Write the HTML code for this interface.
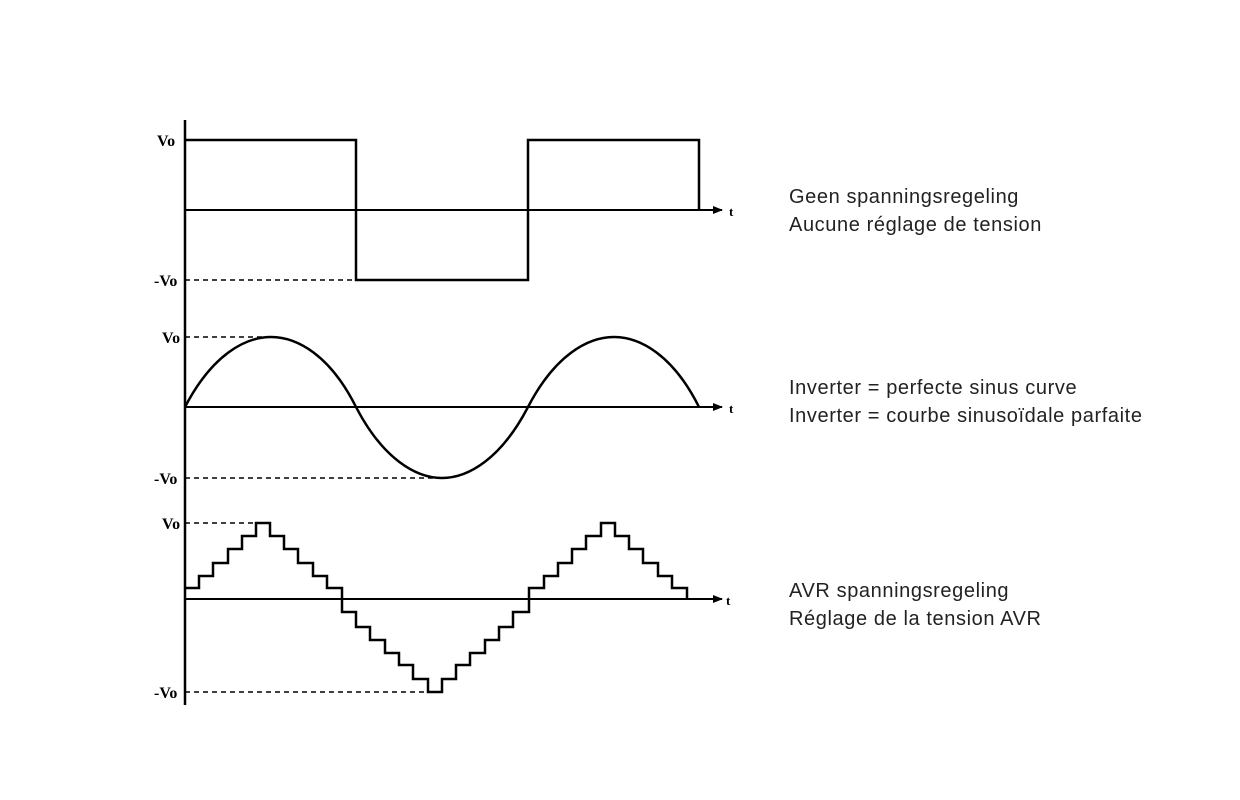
<!DOCTYPE html>
<html><head><style>body{margin:0;background:#fff}</style></head><body>
<svg width="1240" height="800" xmlns="http://www.w3.org/2000/svg" style="display:block">
<defs><marker id="a" markerWidth="10" markerHeight="8" refX="9" refY="4" orient="auto" markerUnits="userSpaceOnUse"><path d="M0,0L10,4L0,8Z" fill="#000"/></marker></defs>
<g stroke="#000" fill="none">
<line x1="185" y1="120" x2="185" y2="705" stroke-width="2.5"/>
<line x1="185" y1="210" x2="722" y2="210" stroke-width="2" marker-end="url(#a)"/>
<line x1="185" y1="407" x2="722" y2="407" stroke-width="2" marker-end="url(#a)"/>
<line x1="185" y1="599" x2="722" y2="599" stroke-width="2" marker-end="url(#a)"/>
<g stroke-width="1.5" stroke-dasharray="5,4">
<line x1="185" y1="280" x2="356" y2="280"/>
<line x1="185" y1="337" x2="271" y2="337"/>
<line x1="185" y1="478" x2="442" y2="478"/>
<line x1="185" y1="523" x2="256" y2="523"/>
<line x1="185" y1="692" x2="428" y2="692"/>
</g>
<polyline stroke-width="2.5" points="185,140 356,140 356,280 528,280 528,140 699,140 699,210"/>
<path stroke-width="2.5" d="M185,407 C212,355 245,337 271,337 C297,337 330,355 356,407 C383,459 416,478 442,478 C468,478 501,459 528,407 C555,355 588,337 614,337 C640,337 673,355 699,407"/>
<polyline stroke-width="2.5" points="185,588 199,588 199,576 213,576 213,563 228,563 228,549 242,549 242,536 256,536 256,523 270,523 270,536 284,536 284,549 298,549 298,563 313,563 313,576 327,576 327,588 342,588 342,612 356,612 356,627 370,627 370,640 385,640 385,653 399,653 399,665 413,665 413,679 428,679 428,692 442,692 442,679 456,679 456,665 470,665 470,653 485,653 485,640 499,640 499,627 513,627 513,612 529,612 529,588 544,588 544,576 558,576 558,563 572,563 572,549 586,549 586,536 601,536 601,523 615,523 615,536 629,536 629,549 643,549 643,563 658,563 658,576 672,576 672,588 687,588 687,599"/>
</g>
<g font-family="Liberation Serif, serif" font-weight="bold" font-size="16" fill="#000">
<text x="157" y="146">Vo</text><text x="154" y="286">-Vo</text>
<text x="162" y="343">Vo</text><text x="154" y="484">-Vo</text>
<text x="162" y="529">Vo</text><text x="154" y="698">-Vo</text>
<text x="729" y="216" font-size="13">t</text><text x="729" y="413" font-size="13">t</text><text x="726" y="605" font-size="13">t</text>
</g>
<g font-family="Liberation Sans, sans-serif" font-size="20" letter-spacing="0.6" fill="#222">
<text x="789" y="203">Geen spanningsregeling</text>
<text x="789" y="231">Aucune réglage de tension</text>
<text x="789" y="394">Inverter = perfecte sinus curve</text>
<text x="789" y="422">Inverter = courbe sinusoïdale parfaite</text>
<text x="789" y="597">AVR spanningsregeling</text>
<text x="789" y="625">Réglage de la tension AVR</text>
</g>
</svg>
</body></html>
